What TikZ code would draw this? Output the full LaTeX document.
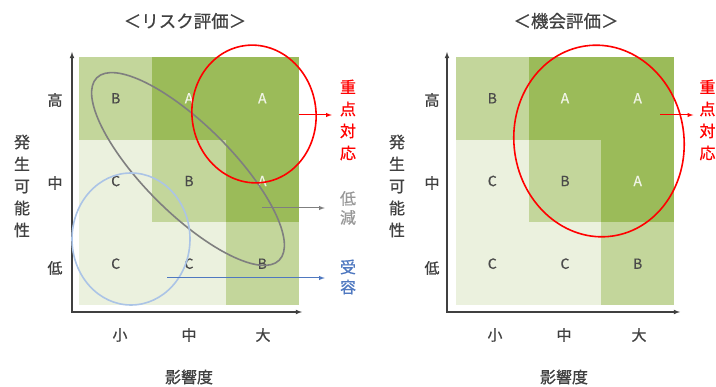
\documentclass[tikz,border=0pt]{standalone}
\usepackage{fontspec}
\setmainfont{Noto Sans CJK JP}[FakeBold=0.7]
\usepackage{tikz}
\usetikzlibrary{positioning}

\definecolor{riskhigh}{HTML}{9BBB59}
\definecolor{riskmid}{HTML}{C3D69B}
\definecolor{risklow}{HTML}{EBF1DE}
\definecolor{gradeA}{HTML}{F0F4E6}
\definecolor{gradeBC}{HTML}{4A4A4A}
\definecolor{axisgray}{HTML}{404040}
\definecolor{focusred}{HTML}{FF0000}
\definecolor{reducegray}{HTML}{7F7F7F}
\definecolor{acceptblue}{HTML}{4F78C0}
\definecolor{ringblue}{HTML}{ABC4E6}

\begin{document}
\begin{tikzpicture}[x=1pt, y=-1pt,
    every node/.append style={inner sep=0pt, text=axisgray},
    cellA/.style={fill=riskhigh, minimum width=73.6pt, minimum height=82.9pt, text=gradeA, font=\fontsize{14}{16}\selectfont},
    cellB/.style={fill=riskmid, minimum width=73.6pt, minimum height=82.9pt, text=gradeBC, font=\fontsize{14}{16}\selectfont},
    cellC/.style={fill=risklow, minimum width=73.6pt, minimum height=82.9pt, text=gradeBC, font=\fontsize{14}{16}\selectfont},
    tick/.style={font=\fontsize{15}{15}\selectfont},
    vlabel/.style={align=center, font=\fontsize{16}{22}\selectfont},
    axis/.style={draw=axisgray, line width=1.1pt, latex-latex},
    ring/.style={line width=1.6pt}]
        \useasboundingbox (0,0) rectangle (716,387);

        % risk matrix
        \node [cellB] (L11) at (115.7,98.3) {B};
        \node [cellA] (L12) at (189,98.3) {A};
        \node [cellA] (L13) at (262.3,98.3) {A};
        \node [cellC] (L21) at (115.7,181) {C};
        \node [cellB] (L22) at (189,181) {B};
        \node [cellA] (L23) at (262.3,181) {A};
        \node [cellC] (L31) at (115.7,263.7) {C};
        \node [cellC] (L32) at (189,263.7) {C};
        \node [cellB] (L33) at (262.3,263.7) {B};

        \coordinate (Ltop) at (72,52);
        \coordinate (Lorig) at (72,312);
        \coordinate (Lend) at (302,312);
        \draw [axis] (Ltop) -- (Lorig) -- (Lend);

        \node (Ltitle) at (185,21) {\fontsize{17.5}{18}\selectfont ＜リスク評価＞};
        \node [tick] (Lhigh) at (55,100) {高};
        \node [tick] (Lmid) at (55,183) {中};
        \node [tick] (Llow) at (55,268) {低};
        \node [tick] (Lsmall) at (120,335) {小};
        \node [tick] (Lmed) at (189,335) {中};
        \node [tick] (Lbig) at (263,335) {大};
        \node [vlabel] (Lprob) at (22,186) {発\\生\\可\\能\\性};
        \node [font=\fontsize{16}{16}\selectfont] (Limpact) at (189,377) {影響度};

        \coordinate (Lgray) at (188,169);
        \draw [ring, draw=reducegray, rotate around={-45:(Lgray)}] (Lgray) ellipse [x radius=129pt, y radius=44pt];
        \coordinate (Lblue) at (131,239);
        \draw [ring, draw=ringblue] (Lblue) ellipse [x radius=59pt, y radius=66pt];
        \coordinate (Lred) at (254,114);
        \draw [ring, draw=focusred, rotate around={8:(Lred)}] (Lred) ellipse [x radius=62pt, y radius=69pt];

        \node [vlabel, text=focusred] (Lfocus) at (348,120) {重\\点\\対\\応};
        \node [vlabel, text=reducegray!80, font=\fontsize{16}{19}\selectfont] (Lreduce) at (348,208) {低\\減};
        \node [vlabel, text=acceptblue, font=\fontsize{16}{20}\selectfont] (Laccept) at (348,277) {受\\容};

        \coordinate (Lfocusfrom) at (299,115);
        \coordinate (Lreducefrom) at (262,208);
        \coordinate (Lacceptfrom) at (167,278);
        \draw [-latex, focusred, line width=1pt, shorten >=8pt] (Lfocusfrom) -- (Lfocusfrom -| Lfocus.west);
        \draw [-latex, reducegray, line width=1pt, shorten >=15pt] (Lreducefrom) -- (Lreducefrom -| Lreduce.west);
        \draw [-latex, acceptblue, line width=1pt, shorten >=15pt] (Lacceptfrom) -- (Lacceptfrom -| Laccept.west);

        % opportunity matrix
        \node [cellB, minimum width=72.9pt] (R11) at (492.3,98.3) {B};
        \node [cellA, minimum width=72.9pt] (R12) at (565,98.3) {A};
        \node [cellA, minimum width=72.9pt] (R13) at (637.7,98.3) {A};
        \node [cellC, minimum width=72.9pt] (R21) at (492.3,181) {C};
        \node [cellB, minimum width=72.9pt] (R22) at (565,181) {B};
        \node [cellA, minimum width=72.9pt] (R23) at (637.7,181) {A};
        \node [cellC, minimum width=72.9pt] (R31) at (492.3,263.7) {C};
        \node [cellC, minimum width=72.9pt] (R32) at (565,263.7) {C};
        \node [cellB, minimum width=72.9pt] (R33) at (637.7,263.7) {B};

        \coordinate (Rtop) at (447,52);
        \coordinate (Rorig) at (447,312);
        \coordinate (Rend) at (680,312);
        \draw [axis] (Rtop) -- (Rorig) -- (Rend);

        \node (Rtitle) at (566,21) {\fontsize{17.5}{18}\selectfont ＜機会評価＞};
        \node [tick] (Rhigh) at (432,100) {高};
        \node [tick] (Rmid) at (432,183) {中};
        \node [tick] (Rlow) at (432,268) {低};
        \node [tick] (Rsmall) at (495,335) {小};
        \node [tick] (Rmed) at (564,335) {中};
        \node [tick] (Rbig) at (639,335) {大};
        \node [vlabel] (Rprob) at (397,186) {発\\生\\可\\能\\性};
        \node [font=\fontsize{16}{16}\selectfont] (Rimpact) at (564,377) {影響度};

        \coordinate (Rred) at (599,141);
        \draw [ring, draw=focusred, rotate around={8:(Rred)}] (Rred) ellipse [x radius=85pt, y radius=96pt];

        \node [vlabel, text=focusred] (Rfocus) at (707.5,120) {重\\点\\対\\応};
        \coordinate (Rfocusfrom) at (660,115);
        \draw [-latex, focusred, line width=1pt, shorten >=6pt] (Rfocusfrom) -- (Rfocusfrom -| Rfocus.west);
    \end{tikzpicture}
\end{document}
